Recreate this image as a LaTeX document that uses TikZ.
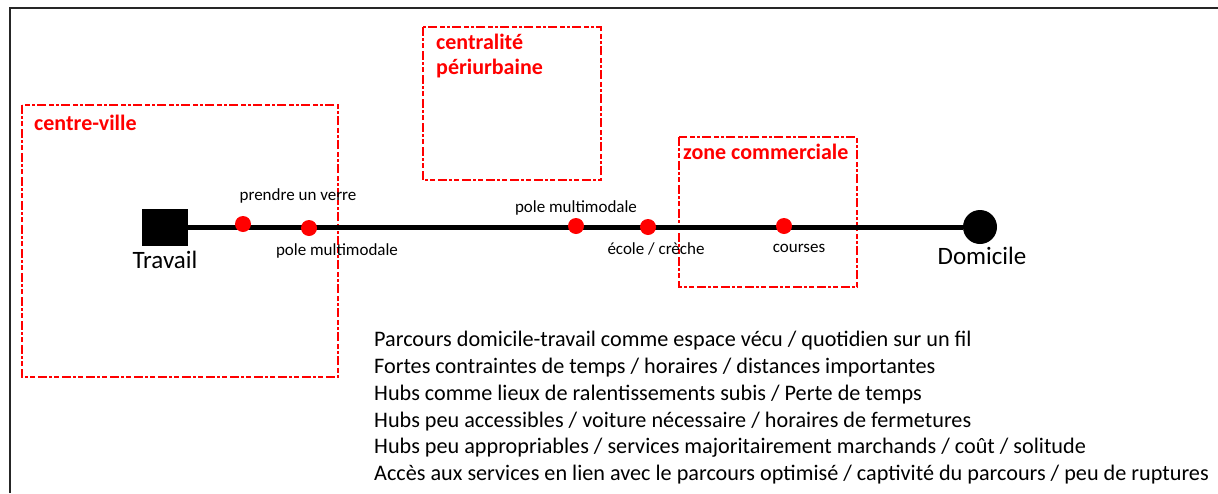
\documentclass[tikz,border=0pt]{standalone}
\usepackage{fontspec}
\setmainfont{Carlito}
\begin{document}
\begin{tikzpicture}[x=1pt,y=-1pt,
  zonebox/.style={draw=red, line width=2pt, dash pattern=on 9pt off 2pt on 3pt off 2pt on 5pt off 3pt},
  zonelabel/.style={text=red, font=\bfseries\fontsize{22}{26}\selectfont, anchor=west, inner sep=0pt},
  stop/.style={circle, fill=red, minimum width=16pt, minimum height=15pt, inner sep=0pt},
  stoplabel/.style={font=\fontsize{17}{20}\selectfont, inner sep=0pt},
  endlabel/.style={font=\fontsize{25}{28}\selectfont, inner sep=0pt},
  noteline/.style={font=\fontsize{22.2}{26}\selectfont, anchor=west, inner sep=0pt}]
\useasboundingbox (0,0) rectangle (1218,493);
% frame
\draw[line width=2pt, black!85] (10,493) -- (10,8) -- (1218,8);
% zone boxes
\draw[zonebox] (22,105) rectangle (338,377);
\node[zonelabel] (cv) at (34,123) {centre-ville};
\draw[zonebox] (423,27) rectangle (601,180);
\node[zonelabel] (cp1) at (436,42) {centralité};
\node[zonelabel] (cp2) at (436,69) {périurbaine};
\draw[zonebox] (679,137) rectangle (857,287);
\node[zonelabel] (zc) at (683,152) {zone commerciale};
% ends
\node[fill=black, minimum width=46pt, minimum height=37pt, inner sep=0pt] (trav) at (165,227) {};
\node[circle, fill=black, minimum size=34pt, inner sep=0pt] (dom) at (980,227) {};
\draw[line width=5pt] (trav.east) -- (dom.west);
% stops
\node[stop] (s1) at (243,224) {};
\node[stop] (s2) at (309,228) {};
\node[stop] (s3) at (576,226) {};
\node[stop] (s4) at (648,227) {};
\node[stop] (s5) at (784,226) {};
% labels
\node[endlabel] (ltrav) at (165,260) {Travail};
\node[endlabel] (ldom) at (982,256) {Domicile};
\node[stoplabel] (l1) at (298,196) {prendre un verre};
\node[stoplabel] (l2) at (337,251) {pole multimodale};
\node[stoplabel] (l3) at (576,208) {pole multimodale};
\node[stoplabel] (l4) at (656,249) {école / crèche};
\node[stoplabel] (l5) at (799,248) {courses};
% notes
\node[noteline] (n1) at (374,341) {Parcours domicile-travail comme espace vécu / quotidien sur un fil};
\node[noteline] (n2) at (374,368) {Fortes contraintes de temps / horaires / distances importantes};
\node[noteline] (n3) at (374,395) {Hubs comme lieux de ralentissements subis / Perte de temps};
\node[noteline] (n4) at (374,422) {Hubs peu accessibles / voiture nécessaire / horaires de fermetures};
\node[noteline] (n5) at (374,448) {Hubs peu appropriables / services majoritairement marchands / coût / solitude};
\node[noteline] (n6) at (374,475) {Accès aux services en lien avec le parcours optimisé / captivité du parcours / peu de ruptures};
\end{tikzpicture}
\end{document}
